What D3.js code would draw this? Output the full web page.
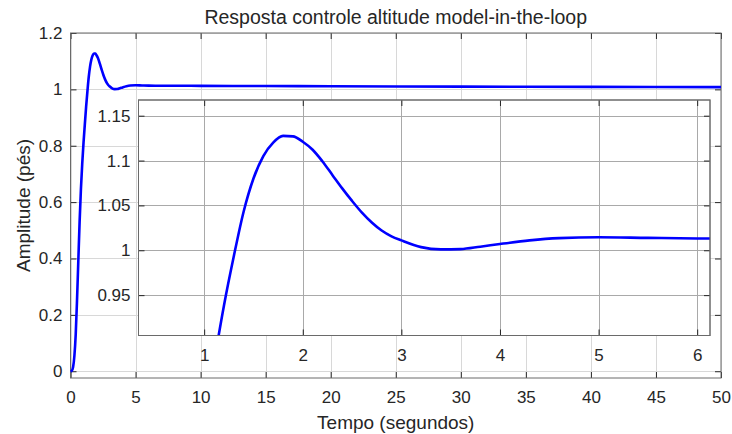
<!DOCTYPE html>
<html lang="pt">
<head>
  <meta charset="UTF-8">
  <title>Resposta controle altitude model-in-the-loop</title>
  <style>
    body {
      margin: 0;
      background: #fff;
    }
    svg text {
      font-family: "Liberation Sans", Arial, sans-serif;
      fill: #262626;
    }
    .axis path.domain {
      display: none;
    }
    .axis line {
      stroke: #262626;
    }
  </style>
</head>
<body>
  <svg></svg>
  <script src="https://d3js.org/d3.v7.min.js"></script>
  <script>
    // step response (seconds, feet)
    const time = [0, 0.1, 0.2, 0.3, 0.4, 0.5, 0.6, 0.7, 0.8, 0.9,
      1.0, 1.1, 1.2, 1.3, 1.4, 1.5, 1.6, 1.7, 1.8, 1.9,
      2.0, 2.1, 2.2, 2.3, 2.4, 2.5, 2.6, 2.7, 2.8, 2.9,
      3.0, 3.2, 3.4, 3.6, 3.8, 4.0, 4.3, 4.6, 5.0, 5.5,
      6.0, 7, 10, 15, 20, 30, 40, 50];
    const amplitude = [0, 0.002, 0.015, 0.055, 0.13, 0.25, 0.39, 0.53, 0.645, 0.735,
      0.81, 0.875, 0.938, 0.993, 1.043, 1.08, 1.105, 1.12, 1.1275, 1.127,
      1.121, 1.112, 1.099, 1.084, 1.069, 1.055, 1.042, 1.031, 1.022, 1.0155,
      1.011, 1.0035, 1.001, 1.0013, 1.004, 1.007, 1.011, 1.0135, 1.0145, 1.0138,
      1.0132, 1.013, 1.0125, 1.0118, 1.011, 1.0098, 1.009, 1.008];

    const xTicks = [0, 5, 10, 15, 20, 25, 30, 35, 40, 45, 50];
    const yTicks = [0, 0.2, 0.4, 0.6, 0.8, 1, 1.2];
    const insetXTicks = [1, 2, 3, 4, 5, 6];
    const insetYTicks = [0.95, 1, 1.05, 1.1, 1.15];

    const title = 'Resposta controle altitude model-in-the-loop';
    const xLabel = 'Tempo (segundos)';
    const yLabel = 'Amplitude (pés)';

    const width = 732;
    const height = 434;
    const svg = d3.select('svg')
      .attr('width', width)
      .attr('height', height);

    const main = {left: 70.5, right: 721, top: 33, bottom: 378};
    const inset = {left: 138.5, right: 710, top: 100, bottom: 335.5};

    const x = d3.scaleLinear().domain([0, 50]).range([main.left, main.right]);
    const y = d3.scaleLinear().domain([-0.024, 1.2]).range([main.bottom, main.top]);
    const xi = d3.scaleLinear().domain([0.334, 6.13]).range([inset.left, inset.right]);
    const yi = d3.scaleLinear().domain([0.905, 1.1675]).range([inset.bottom, inset.top]);

    const fmt = d => String(d);

    // draws grid, ticks (inward on all sides), labels, box
    function drawAxes(box, sx, sy, xt, yt, gridColor) {
      const g = svg.append('g');
      g.append('rect')
        .attr('x', box.left).attr('y', box.top)
        .attr('width', box.right - box.left)
        .attr('height', box.bottom - box.top)
        .attr('fill', '#fff');

      g.append('g').selectAll('line')
        .data(xt).enter().append('line')
        .attr('x1', d => Math.round(sx(d)) + 0.5).attr('x2', d => Math.round(sx(d)) + 0.5)
        .attr('y1', box.top).attr('y2', box.bottom)
        .attr('stroke', gridColor);
      g.append('g').selectAll('line')
        .data(yt).enter().append('line')
        .attr('y1', d => Math.round(sy(d)) + 0.5).attr('y2', d => Math.round(sy(d)) + 0.5)
        .attr('x1', box.left).attr('x2', box.right)
        .attr('stroke', gridColor);

      const bottom = g.append('g')
        .attr('class', 'axis')
        .attr('transform', 'translate(0,' + box.bottom + ')')
        .call(d3.axisBottom(sx).tickValues(xt).tickFormat(fmt)
          .tickSizeInner(-6).tickSizeOuter(0).tickPadding(13));
      g.append('g')
        .attr('class', 'axis')
        .attr('transform', 'translate(' + box.left + ',0)')
        .call(d3.axisLeft(sy).tickValues(yt).tickFormat(fmt)
          .tickSizeInner(-6).tickSizeOuter(0).tickPadding(8));
      g.append('g')
        .attr('class', 'axis')
        .attr('transform', 'translate(0,' + box.top + ')')
        .call(d3.axisTop(sx).tickValues(xt).tickFormat('')
          .tickSizeInner(-6).tickSizeOuter(0));
      g.append('g')
        .attr('class', 'axis')
        .attr('transform', 'translate(' + box.right + ',0)')
        .call(d3.axisRight(sy).tickValues(yt).tickFormat('')
          .tickSizeInner(-6).tickSizeOuter(0));

      g.selectAll('.axis text')
        .attr('font-size', 17)
        .style('font-family', '"Liberation Sans", Arial, sans-serif')
        .attr('fill', '#262626');
      bottom.selectAll('text').attr('dy', '0.71em');

      g.append('rect')
        .attr('x', box.left).attr('y', box.top)
        .attr('width', box.right - box.left)
        .attr('height', box.bottom - box.top)
        .attr('fill', 'none')
        .attr('stroke', '#6a6a6a');
      return g;
    }

    const data = time.map((t, i) => [t, amplitude[i]]);

    // main axes
    drawAxes(main, x, y, xTicks, yTicks, '#d8d8d8');
    svg.append('path')
      .datum(data)
      .attr('fill', 'none')
      .attr('stroke', '#0000ff')
      .attr('stroke-width', 2.6)
      .attr('stroke-linejoin', 'round')
      .attr('d', d3.line().x(d => x(d[0])).y(d => y(d[1])).curve(d3.curveMonotoneX));

    // zoomed inset
    drawAxes(inset, xi, yi, insetXTicks, insetYTicks, '#a9a9a9');
    svg.append('clipPath').attr('id', 'clip-inset')
      .append('rect')
      .attr('x', inset.left).attr('y', inset.top)
      .attr('width', inset.right - inset.left)
      .attr('height', inset.bottom - inset.top);
    svg.append('path')
      .datum(data)
      .attr('clip-path', 'url(#clip-inset)')
      .attr('fill', 'none')
      .attr('stroke', '#0000ff')
      .attr('stroke-width', 2.6)
      .attr('stroke-linejoin', 'round')
      .attr('d', d3.line().x(d => xi(d[0])).y(d => yi(d[1])).curve(d3.curveMonotoneX));
    svg.append('rect')
      .attr('x', inset.left).attr('y', inset.top)
      .attr('width', inset.right - inset.left)
      .attr('height', inset.bottom - inset.top)
      .attr('fill', 'none')
      .attr('stroke', '#6a6a6a');

    // title and labels
    svg.append('text')
      .attr('x', (main.left + main.right) / 2)
      .attr('y', 24)
      .attr('text-anchor', 'middle')
      .attr('font-size', 19.5)
      .text(title);
    svg.append('text')
      .attr('x', (main.left + main.right) / 2)
      .attr('y', 429)
      .attr('text-anchor', 'middle')
      .attr('font-size', 19)
      .text(xLabel);
    svg.append('text')
      .attr('transform', 'translate(30,' + (main.top + main.bottom) / 2 + ') rotate(-90)')
      .attr('text-anchor', 'middle')
      .attr('font-size', 19)
      .text(yLabel);
  </script>
</body>
</html>
